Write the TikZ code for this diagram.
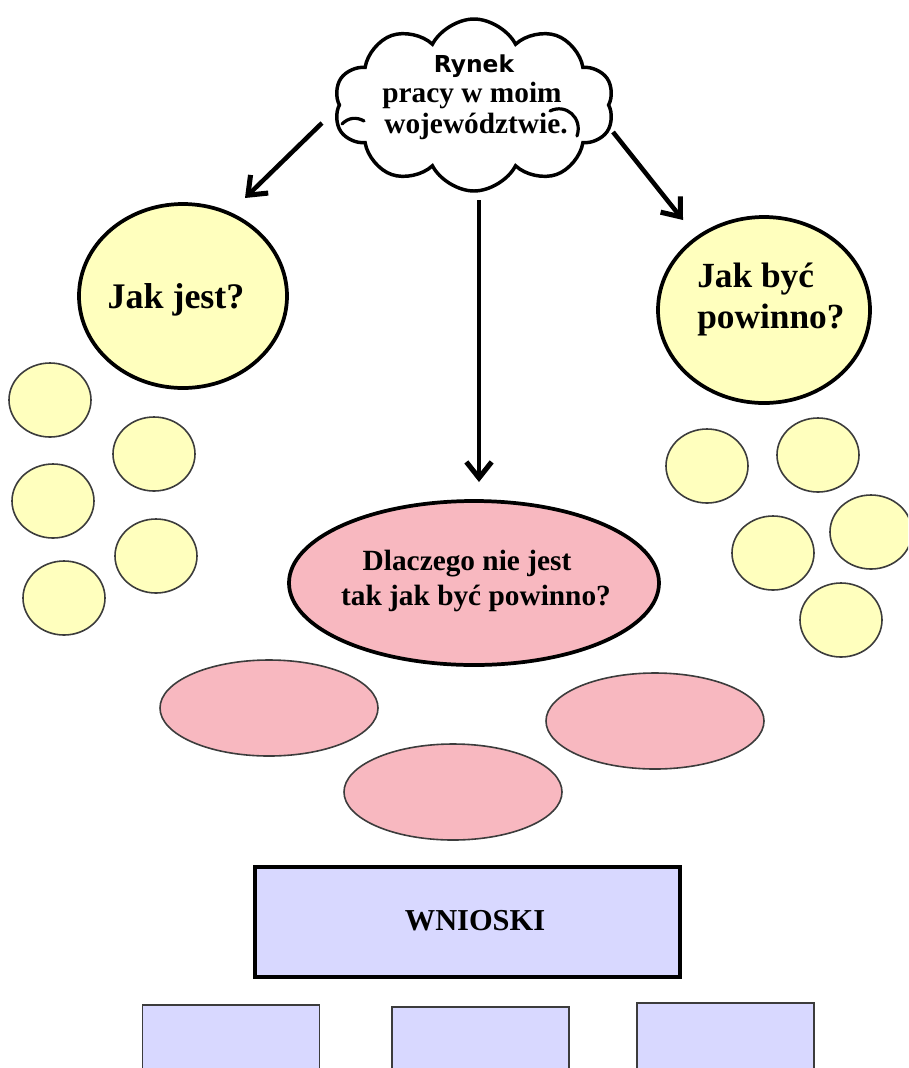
\documentclass[tikz,border=0pt]{standalone}
\usepackage{fontspec}
\setmainfont{Liberation Serif}
\newfontfamily\rynekfont{DejaVu Sans}
\usetikzlibrary{shapes.geometric,shapes.symbols,arrows.meta}
\newdimen\pxu \pxu=0.75pt
\definecolor{yel}{RGB}{255,255,190}
\definecolor{pnk}{RGB}{248,184,192}
\definecolor{lav}{RGB}{216,216,255}
\definecolor{thinline}{RGB}{60,60,60}
\begin{document}
\begin{tikzpicture}[x=0.75pt,y=-0.75pt,
  bigell/.style={ellipse, draw=black, line width=2.8pt, fill=yel, inner sep=0pt},
  smallell/.style={ellipse, draw=thinline, line width=1.2pt, fill=yel, inner sep=0pt, minimum width=82\pxu, minimum height=74\pxu},
  pinkbig/.style={ellipse, draw=black, line width=2.8pt, fill=pnk, inner sep=0pt},
  pinkell/.style={ellipse, draw=thinline, line width=1.2pt, fill=pnk, inner sep=0pt, minimum width=218\pxu, minimum height=96\pxu},
  bigbox/.style={rectangle, draw=black, line width=3pt, fill=lav, inner sep=0pt},
  smallbox/.style={rectangle, draw=thinline, line width=1.4pt, fill=lav, inner sep=0pt, minimum width=177\pxu, minimum height=120\pxu},
  lbl/.style={anchor=base, inner sep=0pt, font=\bfseries},
  curl/.style={line width=2.4pt, line cap=round},
  arr/.style={line width=3.4pt, -{Straight Barb[length=12pt,width=19pt,line width=3.8pt]}}]
\useasboundingbox (0,0) rectangle (908,1068);
\clip (0,0) rectangle (908,1068);

% cloud
\node[cloud, cloud puffs=10, cloud puff arc=125, aspect=1.6, draw=black, line width=2.6pt, fill=white, inner sep=0pt, minimum width=280\pxu, minimum height=172\pxu] (cloud) at (474,105) {};
\draw[curl] (550,111) .. controls (566,103) and (583,118) .. (577,136);
\draw[curl] (342,124) .. controls (349,117) and (357,117) .. (364,121);

\node[anchor=base, inner sep=0pt, font=\rynekfont\bfseries\fontsize{17.5}{20}\selectfont] (t1) at (474,72) {Rynek};
\node[lbl, font=\bfseries\fontsize{22}{26}\selectfont] (t2) at (472,102) {pracy w moim};
\node[lbl, font=\bfseries\fontsize{22}{26}\selectfont] (t3) at (476,133) {województwie.};

% big yellow ellipses
\node[bigell, minimum width=208\pxu, minimum height=184\pxu] (jak) at (183,296) {};
\node[lbl, font=\bfseries\fontsize{27}{32}\selectfont] (jakt) at (176,308) {Jak jest?};
\node[bigell, minimum width=212\pxu, minimum height=186\pxu] (byc) at (764,310) {};
\node[lbl, anchor=base west, font=\bfseries\fontsize{26.5}{32}\selectfont] (byct1) at (697,287) {Jak być};
\node[lbl, anchor=base west, font=\bfseries\fontsize{26.5}{32}\selectfont] (byct2) at (697,328) {powinno?};

% small yellow circles left
\node[smallell] (l1) at (50,400) {};
\node[smallell] (l2) at (154,454) {};
\node[smallell] (l3) at (53,501) {};
\node[smallell] (l4) at (156,556) {};
\node[smallell] (l5) at (64,598) {};
% small yellow circles right
\node[smallell] (r1) at (707,466) {};
\node[smallell] (r2) at (818,455) {};
\node[smallell] (r3) at (773,553) {};
\node[smallell] (r4) at (871,532) {};
\node[smallell] (r5) at (841,620) {};

% central pink ellipse
\node[pinkbig, minimum width=370\pxu, minimum height=164\pxu] (why) at (474,583) {};
\node[lbl, font=\bfseries\fontsize{22}{26}\selectfont] (whyt1) at (467,570) {Dlaczego nie jest};
\node[lbl, font=\bfseries\fontsize{22}{26}\selectfont] (whyt2) at (476,605) {tak jak być powinno?};

% lower pink ellipses
\node[pinkell] (p1) at (269,708) {};
\node[pinkell] (p2) at (453,792) {};
\node[pinkell] (p3) at (655,721) {};

% conclusions
\node[bigbox, minimum width=425\pxu, minimum height=110\pxu] (wn) at (467.5,922) {};
\node[lbl, font=\bfseries\fontsize{22.8}{27}\selectfont] (wnt) at (475,930) {WNIOSKI};
\node[smallbox] (b1) at (231,1065) {};
\node[smallbox] (b2) at (480.5,1067) {};
\node[smallbox] (b3) at (725.5,1063) {};

% arrows
\coordinate (a1s) at (322,123);
\coordinate (a1e) at (245,198);
\coordinate (a2s) at (613,132);
\coordinate (a2e) at (683,220);
\coordinate (a3s) at (479,200);
\coordinate (a3e) at (479,482);
\draw[arr] (a1s) -- (a1e);
\draw[arr] (a2s) -- (a2e);
\draw[arr] (a3s) -- (a3e);
\end{tikzpicture}
\end{document}
